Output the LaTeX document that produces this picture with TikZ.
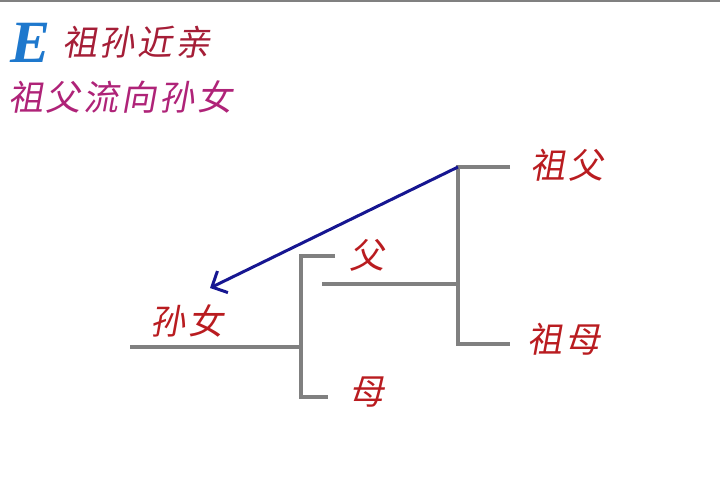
\documentclass[tikz,border=0pt]{standalone}
\usepackage{fontspec}
\usetikzlibrary{arrows.meta, positioning}
\setmainfont{Liberation Serif}
\newfontfamily\cjk[FakeSlant=0.18, LetterSpace=8]{Noto Sans CJK SC}
\definecolor{kingray}{RGB}{128,128,128}
\definecolor{kinred}{RGB}{185,28,32}
\definecolor{titlered}{RGB}{165,30,55}
\definecolor{titlemagenta}{RGB}{175,35,120}
\definecolor{letterblue}{RGB}{30,120,205}
\definecolor{flowblue}{RGB}{22,22,145}

\begin{document}
\begin{tikzpicture}[
    x=1pt, y=-1pt,
    kinline/.style={draw=kingray, line width=3.2pt},
    member/.style={font=\cjk\fontsize{35}{35}\selectfont, text=kinred, inner sep=0pt},
    title text/.style={font=\cjk\fontsize{35}{35}\selectfont, inner sep=0pt, anchor=west},
    flow/.style={-{Straight Barb[length=12pt, width=24pt, line width=3pt]}, draw=flowblue, line width=3pt}
]
    \useasboundingbox (0,0) rectangle (720,492);
    \draw[kingray, line width=2pt] (0,1) -- (720,1);

    % Title
    \node[font=\fontsize{60}{60}\selectfont\bfseries\itshape, text=letterblue, inner sep=0pt] (letter) at (31,43) {E};
    \node[title text, text=titlered] (title) at (62,42) {祖孙近亲};
    \node[title text, text=titlemagenta] (subtitle) at (8,97) {祖父流向孙女};

    % Grandparents
    \coordinate (gp top) at (458,167);
    \coordinate (gp mid) at (458,284);
    \coordinate (gp bottom) at (458,344);
    \coordinate (grandpa end) at (510,167);
    \coordinate (grandma end) at (510,344);
    \node[member] (grandpa) at (567,165) {祖父};
    \node[member] (grandma) at (564,339) {祖母};

    % Parents
    \coordinate (father line) at (322,284);
    \coordinate (p top) at (301,256);
    \coordinate (p mid) at (301,347);
    \coordinate (p bottom) at (301,397);
    \coordinate (father end) at (335,256);
    \coordinate (mother end) at (328,397);
    \node[member] (father) at (367,255) {父};
    \node[member] (mother) at (367,392) {母};

    % Granddaughter
    \coordinate (child end) at (130,347);
    \coordinate (flow end) at (210,288);
    \node[member] (granddaughter) at (187,321) {孙女};

    % Pedigree lines
    \draw[kinline] (grandpa end) -- (gp top) -- (gp bottom) -- (grandma end);
    \draw[kinline] (father line) -- (gp mid);
    \draw[kinline] (father end) -- (p top) -- (p bottom) -- (mother end);
    \draw[kinline] (child end) -- (p mid);

    % Flow of the X chromosome
    \draw[flow] (gp top) -- (flow end);
\end{tikzpicture}
\end{document}
